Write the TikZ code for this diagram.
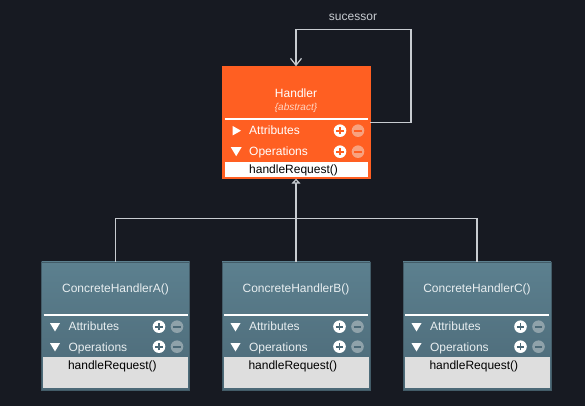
\documentclass[tikz,border=0pt]{standalone}
\usepackage{fontspec}
\setmainfont{Liberation Sans}
\usepackage{tikz}
\usetikzlibrary{arrows.meta, calc}
\definecolor{bgDark}{HTML}{171A22}
\definecolor{handlerOrange}{HTML}{FF5F22}
\definecolor{abstractTint}{HTML}{FFD6C4}
\definecolor{minusOrange}{HTML}{F8A27F}
\definecolor{tealTop}{HTML}{5C808F}
\definecolor{tealBottom}{HTML}{4C6977}
\definecolor{tealEdge}{HTML}{435C68}
\definecolor{minusTeal}{HTML}{8FA2AA}
\definecolor{titleLight}{HTML}{E8EEF0}
\definecolor{opsGray}{HTML}{DEDEDE}
\definecolor{lineGray}{HTML}{C8CCD1}

\begin{document}
\begin{tikzpicture}[x=1pt, y=1pt,
  every node/.style={inner sep=0pt, font=\fontsize{12}{14}\selectfont},
  handlerBox/.style={draw=handlerOrange, fill=handlerOrange, minimum width=148pt, minimum height=112pt},
  concreteBox/.style={draw=tealEdge, top color=tealTop, bottom color=tealBottom, minimum width=148pt, minimum height=128pt},
  rowText/.style={anchor=base west, text=titleLight},
  connector/.style={draw=lineGray, line width=1.2pt}]

% Background
\useasboundingbox[fill=bgDark] (0,0) rectangle (585,406);

% Handler box
\node[handlerBox] (handler) at (296,283.5) {};
\node[anchor=base, text=white] (handlerName) at (296,308) {Handler};
\node[anchor=base, text=abstractTint, font=\fontsize{10}{12}\selectfont\itshape] (handlerAbstract) at (296,295) {\{abstract\}};
\draw[white, line width=2pt] (224.5,286.7) -- (368,286.7);
% Draw rows
\fill[white] (232.7,280) -- (241,275.3) -- (232.7,270.6) -- cycle;
\fill[white] (230.8,258.8) -- (241.6,258.8) -- (236.2,249.8) -- cycle;
\node[rowText, text=white] (handlerAttr) at (249,271) {Attributes};
\node[rowText, text=white] (handlerOps) at (249,250.5) {Operations};
\foreach \rowY in {275.3,254.3} {
  \fill[white] (340,\rowY) circle (6.3);
  \draw[handlerOrange, line width=1.8pt] (336.3,\rowY) -- (343.7,\rowY) (340,\rowY-3.7) -- (340,\rowY+3.7);
  \fill[minusOrange] (358,\rowY) circle (6.3);
  \draw[handlerOrange, line width=1.8pt] (354.3,\rowY) -- (361.7,\rowY);
}
\fill[white] (224.5,229.3) rectangle (368.3,244);
\node[anchor=base west] (handlerOp) at (249,232.2) {handleRequest()};

% Concrete handlers
\foreach \name/\cx in {A/115.5, B/296, C/477} {
  \pgfmathsetmacro{\boxL}{\cx-74}
  \pgfmathsetmacro{\boxR}{\cx+74}
  \node[concreteBox] (concrete\name) at (\cx,80) {};
  \node[anchor=base, text=titleLight] (title\name) at (\cx,113.5) {ConcreteHandler\name()};
  \draw[white, line width=2pt] (\boxL+2,91) -- (\boxR-2,91);
  \foreach \rowY in {79.3,59.3} {
    \fill[white] (\boxL+8.5,\rowY+3.6) -- (\boxL+18.5,\rowY+3.6) -- (\boxL+13.5,\rowY-4.8) -- cycle;
    \fill[white] (\boxR-30.5,\rowY) circle (6.3);
    \draw[tealBottom, line width=1.8pt] (\boxR-34.2,\rowY) -- (\boxR-26.8,\rowY) (\boxR-30.5,\rowY-3.7) -- (\boxR-30.5,\rowY+3.7);
    \fill[minusTeal] (\boxR-12.5,\rowY) circle (6.3);
    \draw[tealBottom, line width=1.8pt] (\boxR-16.2,\rowY) -- (\boxR-8.8,\rowY);
  }
  \node[rowText] (attr\name) at (\boxL+26.8,75) {Attributes};
  \node[rowText] (ops\name) at (\boxL+26.8,54.5) {Operations};
  \fill[opsGray] (\boxL+1.5,17.5) rectangle (\boxR-1.5,48.5);
  \node[anchor=base west] (op\name) at (\boxL+26.3,36.5) {handleRequest()};
}

% Inheritance
\coordinate (junction) at (296,187.5);
\draw[connector, -{Triangle[open, fill=bgDark, length=5pt, width=9pt]}] (concreteB.north) -- (handler.south);
\draw[connector] (concreteA.north) |- (junction) -| (concreteC.north);

% Successor loop
\coordinate (loopCorner) at (411,376.7);
\draw[connector, -{Straight Barb[length=7pt, width=11pt]}] (handler.east) -| (loopCorner) -| (handler.north);
\node[anchor=base, text=lineGray] (successorLabel) at (353,385) {sucessor};

\end{tikzpicture}
\end{document}
